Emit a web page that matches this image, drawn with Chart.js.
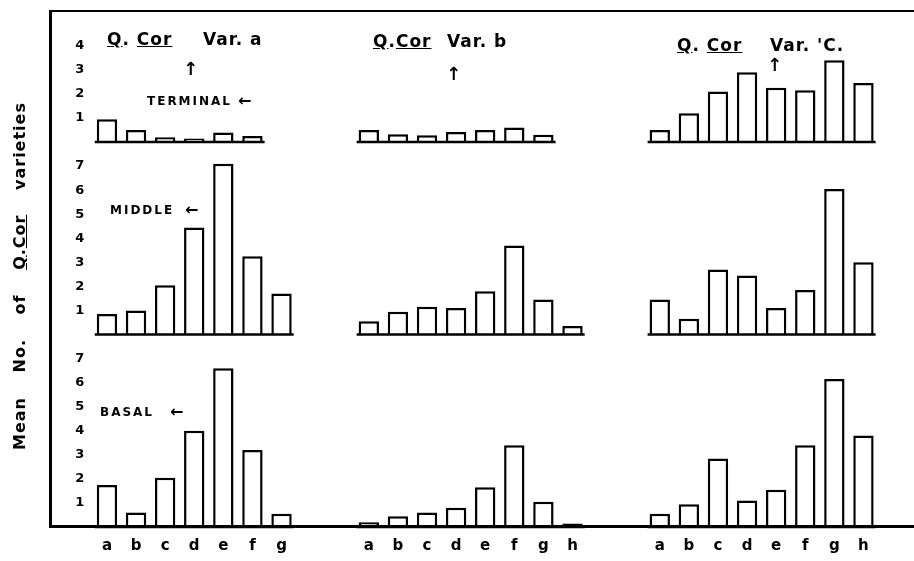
<!DOCTYPE html>
<html>
<head>
<meta charset="utf-8">
<script src="https://cdn.jsdelivr.net/npm/chart.js@4.4.0/dist/chart.umd.min.js"></script>
<style>
  html, body { margin: 0; padding: 0; background: #fff; }
  #wrap { position: relative; width: 914px; height: 561px; overflow: hidden; font-family: "DejaVu Sans", sans-serif; color: #000; }
  #chart { position: absolute; left: 0; top: 0; }
  #frame { position: absolute; left: 49px; top: 10px; width: 865px; height: 518px; box-sizing: border-box;
           border-left: 3px solid #000; border-top: 2px solid #000; border-bottom: 3px solid #000; z-index: 2; pointer-events: none; }
  .t { position: absolute; font-weight: bold; white-space: nowrap; line-height: 1; z-index: 3; }
  .title { font-size: 17px; letter-spacing: 1px; }
  .lvl { font-size: 12px; letter-spacing: 2px; }
  .arr { font-size: 16px; }
  .up { font-size: 18px; }
  #ytitle { left: -180px; top: 268px; width: 400px; text-align: center; font-size: 16px; letter-spacing: 1px; word-spacing: 18px; transform: rotate(-90deg); }
</style>
</head>
<body>
<div id="wrap">
  <canvas id="chart" width="914" height="561"></canvas>
  <div id="frame"></div>

  <div class="t title" style="left:107px; top:31px;"><u>Q</u>. <u>Cor</u></div>
  <div class="t title" style="left:203px; top:31px;">Var. a</div>
  <div class="t title" style="left:373px; top:33px;"><u>Q</u>.<u>Cor</u></div>
  <div class="t title" style="left:447px; top:33px;">Var. b</div>
  <div class="t title" style="left:677px; top:37px;"><u>Q</u>. <u>Cor</u></div>
  <div class="t title" style="left:770px; top:37px;">Var. 'C.</div>

  <div class="t up" style="left:183px; top:60px;">↑</div>
  <div class="t up" style="left:446px; top:65px;">↑</div>
  <div class="t up" style="left:767px; top:56px;">↑</div>

  <div class="t lvl" style="left:147px; top:95px;">TERMINAL</div>
  <div class="t arr" style="left:238px; top:93px;">←</div>
  <div class="t lvl" style="left:110px; top:204px;">MIDDLE</div>
  <div class="t arr" style="left:185px; top:202px;">←</div>
  <div class="t lvl" style="left:100px; top:406px;">BASAL</div>
  <div class="t arr" style="left:170px; top:404px;">←</div>

  <div class="t" id="ytitle">Mean No. of <u>Q</u>.<u>Cor</u> varieties</div>
</div>
<script>
// categories of each variety
const catsA = ['a', 'b', 'c', 'd', 'e', 'f', 'g'];
const catsB = ['a', 'b', 'c', 'd', 'e', 'f', 'g', 'h'];
const catsC = ['a', 'b', 'c', 'd', 'e', 'f', 'g', 'h'];

// terminal position
const termA = [0.95, 0.5, 0.2, 0.15, 0.4, 0.25];
const termB = [0.5, 0.32, 0.28, 0.42, 0.5, 0.6, 0.3];
const termC = [0.5, 1.2, 2.1, 2.9, 2.25, 2.15, 3.4, 2.45];

// middle position
const midA = [0.85, 1.0, 2.05, 4.45, 7.1, 3.25, 1.7];
const midB = [0.55, 0.95, 1.15, 1.1, 1.8, 3.7, 1.45, 0.35];
const midC = [1.45, 0.65, 2.7, 2.45, 1.1, 1.85, 6.05, 3.0];

// basal position
const basA = [1.75, 0.6, 2.05, 4.0, 6.6, 3.2, 0.55];
const basB = [0.2, 0.45, 0.6, 0.8, 1.65, 3.4, 1.05, 0.15];
const basC = [0.55, 0.95, 2.85, 1.1, 1.55, 3.4, 6.15, 3.8];

// tick labels shown on each row
const termTicks = [1, 2, 3, 4];
const midTicks = [1, 2, 3, 4, 5, 6, 7];
const basTicks = [1, 2, 3, 4, 5, 6, 7];

// two empty slots between the variety groups
const gap = ['', ''];
const labels = [...catsA, ...gap, ...catsB, ...gap, ...catsC];

function row(a, b, c) {
  const fill = (arr, n) => arr.concat(Array(n - arr.length).fill(null));
  return [...fill(a, catsA.length), null, null, ...fill(b, catsB.length), null, null, ...fill(c, catsC.length)];
}

const barStyle = {
  backgroundColor: '#fff',
  borderColor: '#000',
  borderWidth: 2.5,
  borderSkipped: 'start',
  grouped: false,
  barPercentage: 0.7,
  categoryPercentage: 1
};

const tickFont = { family: 'DejaVu Sans', size: 13, weight: 'bold' };

function yAxis(max, shown) {
  return {
    type: 'linear',
    position: 'left',
    stack: 'rows',
    stackWeight: max,
    min: 0,
    max: max,
    grid: { display: false, drawTicks: false },
    border: { display: false },
    ticks: {
      stepSize: 1,
      autoSkip: false,
      padding: 8,
      color: '#000',
      font: tickFont,
      callback: v => shown.includes(v) ? v : ''
    },
    afterFit: s => { s.width = 40; }
  };
}

// short base line under each group of bars
const baselines = {
  id: 'baselines',
  afterDatasetsDraw(chart) {
    const ctx = chart.ctx;
    ctx.save();
    ctx.strokeStyle = '#000';
    ctx.lineWidth = 2.5;
    chart.data.datasets.forEach((ds, di) => {
      const bars = chart.getDatasetMeta(di).data;
      let start = null;
      for (let i = 0; i <= ds.data.length; i++) {
        const has = i < ds.data.length && ds.data[i] != null;
        if (has && start === null) start = i;
        if (!has && start !== null) {
          const first = bars[start], last = bars[i - 1];
          ctx.beginPath();
          ctx.moveTo(first.x - first.width / 2 - 2, first.base);
          ctx.lineTo(last.x + last.width / 2 + 2, last.base);
          ctx.stroke();
          start = null;
        }
      }
    });
    ctx.restore();
  }
};

new Chart(document.getElementById('chart'), {
  type: 'bar',
  data: {
    labels: labels,
    datasets: [
      { label: 'Terminal', data: row(termA, termB, termC), yAxisID: 'yT', ...barStyle },
      { label: 'Middle', data: row(midA, midB, midC), yAxisID: 'yM', ...barStyle },
      { label: 'Basal', data: row(basA, basB, basC), yAxisID: 'yB', ...barStyle }
    ]
  },
  options: {
    responsive: false,
    animation: false,
    layout: { padding: { left: 52.4, right: 36, top: 21.7, bottom: 0 } },
    plugins: { legend: { display: false }, tooltip: { enabled: false } },
    scales: {
      x: {
        type: 'category',
        offset: true,
        grid: { display: false, drawTicks: false },
        border: { display: false },
        ticks: { autoSkip: false, maxRotation: 0, padding: 10, color: '#000', font: { family: 'DejaVu Sans', size: 15, weight: 'bold' } },
        afterFit: s => { s.height = 34; }
      },
      // stacked axes are laid out bottom first, so basal comes first
      yB: yAxis(8, basTicks),
      yM: yAxis(8, midTicks),
      yT: yAxis(5, termTicks)
    }
  },
  plugins: [baselines]
});
</script>
</body>
</html>
